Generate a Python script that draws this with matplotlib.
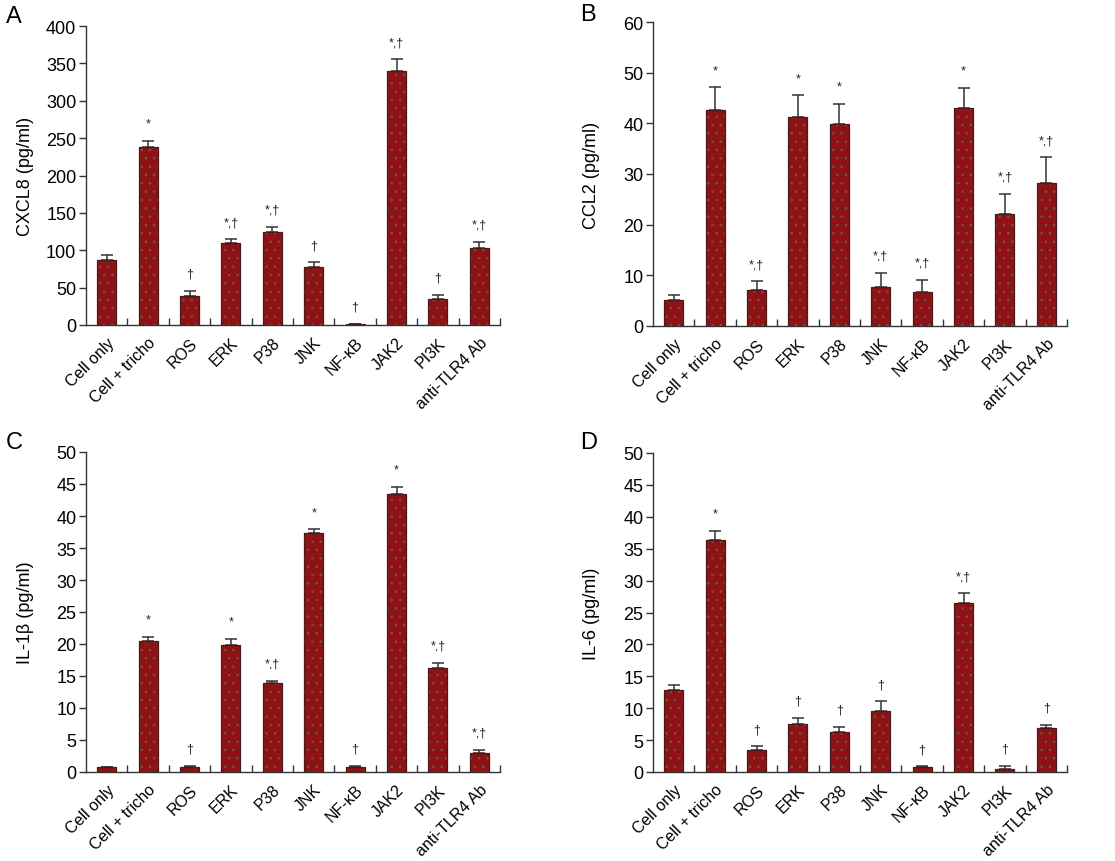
import numpy as np
import matplotlib
matplotlib.use("Agg")
import matplotlib.pyplot as plt

plt.rcParams['font.family'] = ['Liberation Sans', 'DejaVu Sans']
plt.rcParams['hatch.linewidth'] = 0.7

groups = ["Cell only", "Cell + tricho", "ROS", "ERK", "P38", "JNK",
          "NF-κB", "JAK2", "PI3K", "anti-TLR4 Ab"]

# panel A: CXCL8
cxcl8 = [86.7, 237.8, 38.7, 109.8, 124.0, 77.8, 1.0, 340.4, 34.2, 103.6]
cxcl8_err = [7.5, 9.0, 7.0, 5.0, 7.0, 6.0, 0.6, 15.0, 6.0, 7.5]
cxcl8_sig = ["", "*", "†", "*,†", "*,†", "†", "†", "*,†", "†", "*,†"]

# panel B: CCL2
ccl2 = [5.1, 42.7, 7.2, 41.3, 39.9, 7.7, 6.8, 43.1, 22.2, 28.3]
ccl2_err = [1.1, 4.4, 1.6, 4.2, 4.0, 2.8, 2.3, 3.9, 3.9, 5.0]
ccl2_sig = ["", "*", "*,†", "*", "*", "*,†", "*,†", "*", "*,†", "*,†"]

# panel C: IL-1beta
il1b = [0.75, 20.5, 0.85, 19.9, 13.85, 37.3, 0.85, 43.5, 16.2, 3.0]
il1b_err = [0.1, 0.6, 0.15, 0.9, 0.4, 0.6, 0.15, 1.1, 0.9, 0.5]
il1b_sig = ["", "*", "†", "*", "*,†", "*", "†", "*", "*,†", "*,†"]

# panel D: IL-6
il6 = [12.8, 36.3, 3.4, 7.5, 6.2, 9.5, 0.8, 26.5, 0.5, 6.9]
il6_err = [0.9, 1.5, 0.6, 1.0, 0.9, 1.6, 0.1, 1.5, 0.45, 0.5]
il6_sig = ["", "*", "†", "†", "†", "†", "†", "*,†", "†", "†"]

W, H = 1115, 862
fig = plt.figure(figsize=(W / 100, H / 100), dpi=100)

bar_color = '#8e1216'
dot_color = (0.35, 0.5, 0.28, 0.55)
axis_color = '#333333'


def draw_panel(rect, vals, errs, sigs, ymax, ystep, ylabel, letter, letter_xy, ylabel_x):
    ax = fig.add_axes(rect)
    x = np.arange(len(groups))
    ax.bar(x, vals, width=0.46, color=bar_color, edgecolor='none', zorder=2)
    ax.bar(x, vals, width=0.46, fill=False, hatch='..', edgecolor=dot_color,
           linewidth=0, zorder=3)
    ax.bar(x, vals, width=0.46, fill=False, edgecolor='#4a1a1a', linewidth=0.9, zorder=4)
    ax.errorbar(x, vals, yerr=[np.zeros(len(vals)), errs], fmt='none',
                ecolor=axis_color, elinewidth=1.1, capsize=4, capthick=1.1, zorder=1)
    for i, s in enumerate(sigs):
        if s:
            ax.annotate(s, xy=(x[i], vals[i] + errs[i]), xytext=(0, 8),
                        textcoords='offset points', ha='center', va='bottom',
                        fontsize=9, color='#222222')
    ax.set_xlim(-0.5, len(groups) - 0.5)
    ax.set_ylim(0, ymax)
    ax.set_yticks(np.arange(0, ymax + ystep / 2, ystep))
    ax.set_xticks(x)
    ax.set_xticklabels(groups, rotation=45, ha='right', rotation_mode='anchor', fontsize=11.5)
    ax.set_xticks(np.arange(0.5, len(groups), 1), minor=True)
    ax.tick_params(axis='x', which='major', length=0, pad=7)
    ax.tick_params(axis='x', which='minor', direction='in', length=5, color=axis_color, width=1)
    ax.tick_params(axis='y', direction='out', length=5, color=axis_color, width=1,
                   labelsize=13, pad=2)
    for side in ['top', 'right']:
        ax.spines[side].set_visible(False)
    for side in ['left', 'bottom']:
        ax.spines[side].set_color(axis_color)
        ax.spines[side].set_linewidth(1)
    fig.text(ylabel_x / W, rect[1] + rect[3] / 2, ylabel, rotation=90, ha='center',
             va='center', fontsize=13)
    fig.text(letter_xy[0] / W, 1 - letter_xy[1] / H, letter, fontsize=17, ha='left', va='top')
    return ax


draw_panel([86 / W, 1 - 326 / H, 414 / W, 299 / H], cxcl8, cxcl8_err, cxcl8_sig,
           400, 50, "CXCL8 (pg/ml)", "A", (6, 6), 25)
draw_panel([653 / W, 1 - 327 / H, 414 / W, 304 / H], ccl2, ccl2_err, ccl2_sig,
           60, 10, "CCL2 (pg/ml)", "B", (580, 4), 592)
draw_panel([86 / W, 1 - 773 / H, 414 / W, 320 / H], il1b, il1b_err, il1b_sig,
           50, 5, "IL-1β (pg/ml)", "C", (6, 432), 25)
draw_panel([653 / W, 1 - 773 / H, 414 / W, 319 / H], il6, il6_err, il6_sig,
           50, 5, "IL-6 (pg/ml)", "D", (580, 432), 592)

fig.savefig("out.png", dpi=100)
